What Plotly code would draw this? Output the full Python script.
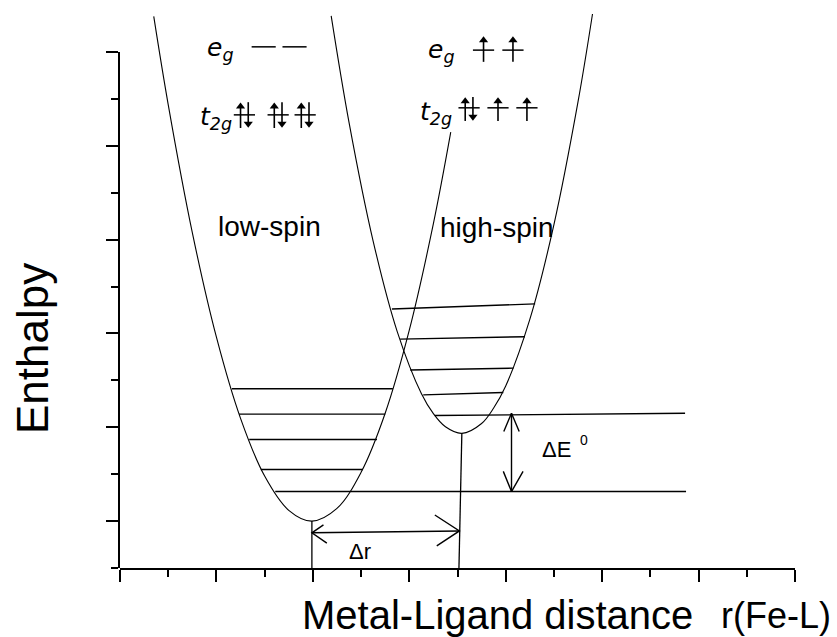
import plotly.graph_objects as go

# ---------------- data (axis units = minor-tick steps) ----------------
# potential-energy curves (sampled points along each curve)
LS_X = [0.70, 1.00, 1.50, 2.00, 2.50, 3.00, 3.50, 3.98, 4.50, 5.00, 5.50, 6.00, 6.50, 6.86]
LS_Y = [11.76, 9.88, 7.15, 4.92, 3.19, 1.96, 1.23, 1.00, 1.27, 2.04, 3.30, 5.07, 7.34, 9.29]
HS_X = [4.38, 4.75, 5.25, 5.75, 6.25, 6.50, 6.75, 7.09, 7.50, 7.75, 8.00, 8.50, 9.00, 9.50, 9.80]
HS_Y = [11.77, 9.50, 6.97, 5.04, 3.72, 3.29, 3.01, 2.87, 3.08, 3.41, 3.88, 5.30, 7.32, 9.94, 11.81]

# vibrational levels
LS_LEVEL_Y = [3.82, 3.28, 2.74, 2.10, 1.63]
LS_LEVEL_X0 = [2.32, 2.47, 2.68, 2.92, 3.22]
LS_LEVEL_X1 = [5.66, 5.50, 5.33, 5.04, 11.74]
HS_LEVEL_Y0 = [5.52, 4.88, 4.22, 3.69, 3.25]
HS_LEVEL_Y1 = [5.63, 4.93, 4.26, 3.74, 3.30]
HS_LEVEL_X0 = [5.64, 5.81, 6.02, 6.29, 6.53]
HS_LEVEL_X1 = [8.61, 8.40, 8.16, 7.95, 11.72]

# minima and drop lines
LS_MIN = (3.98, 1.00)
HS_MIN = (7.09, 2.87)
HS_DROP_X = 7.03

# Delta r arrow (y at left / right end) and Delta E arrow
DR_Y = (0.75, 0.79)
DR_X = (3.98, 7.04)
DE_X = 8.12
DE_Y = (1.63, 3.30)

# electron configurations (0 empty, 1 up, 2 paired)
LS_EG = [0, 0]
LS_T2G = [2, 2, 2]
HS_EG = [1, 1]
HS_T2G = [2, 1, 1]

# text
STATE_LABELS = ["low-spin", "high-spin"]
Y_TITLE = "Enthalpy"
X_TITLE = "Metal-Ligand distance"
X_UNIT = "r(Fe-L)"

# ---------------- figure ----------------
BLACK = "black"
FONT = "Liberation Sans, Arial, sans-serif"
W, H = 837, 637
X0PX, X1PX = 120, 795
YBOT, YTOP = 568, 52
PXY = (YBOT - YTOP) / 11.0

fig = go.Figure()


def seg_trace(xs, ys, width=1.3, color=BLACK):
    return go.Scatter(x=xs, y=ys, mode="lines", line=dict(color=color, width=width),
                      hoverinfo="skip", showlegend=False, xaxis="x", yaxis="y")


# curves
for cx, cy in ((LS_X, LS_Y), (HS_X, HS_Y)):
    fig.add_trace(go.Scatter(x=cx, y=cy, mode="lines",
                             line=dict(color=BLACK, width=1.1, shape="spline", smoothing=1.0),
                             hoverinfo="skip", showlegend=False))

# levels
lx, ly = [], []
for y, a, b in zip(LS_LEVEL_Y, LS_LEVEL_X0, LS_LEVEL_X1):
    lx += [a, b, None]
    ly += [y, y, None]
for y0, y1, a, b in zip(HS_LEVEL_Y0, HS_LEVEL_Y1, HS_LEVEL_X0, HS_LEVEL_X1):
    lx += [a, b, None]
    ly += [y0, y1, None]
fig.add_trace(seg_trace(lx, ly, width=1.4))

# drop lines
fig.add_trace(seg_trace([LS_MIN[0], LS_MIN[0], None, HS_MIN[0], HS_DROP_X],
                        [LS_MIN[1], 0, None, HS_MIN[1], 0], width=1.3))

# Delta r arrow with open heads
ax_, ay_ = [], []
ax_ += [DR_X[0], DR_X[1], None]
ay_ += [DR_Y[0], DR_Y[1], None]
ax_ += [DR_X[0] + 0.31, DR_X[0], DR_X[0] + 0.24, None]
ay_ += [DR_Y[0] - 0.22, DR_Y[0], DR_Y[0] + 0.17, None]
ax_ += [DR_X[1] - 0.51, DR_X[1], DR_X[1] - 0.47, None]
ay_ += [DR_Y[1] + 0.34, DR_Y[1], DR_Y[1] - 0.32, None]
# Delta E arrow
ax_ += [DE_X, DE_X, None]
ay_ += [DE_Y[0], DE_Y[1], None]
ax_ += [DE_X - 0.16, DE_X, DE_X + 0.16, None]
ay_ += [DE_Y[1] - 0.39, DE_Y[1], DE_Y[1] - 0.39, None]
ax_ += [DE_X - 0.17, DE_X, DE_X + 0.24, None]
ay_ += [DE_Y[0] + 0.43, DE_Y[0], DE_Y[0] + 0.43, None]
fig.add_trace(seg_trace(ax_, ay_, width=1.4))

# orbital diagrams: orbital lines, electron shafts and arrow heads (markers)
orb_x, orb_y = [], []
sh_x, sh_y = [], []
hd_x, hd_y, hd_sym = [], [], []
HEAD = 0.09  # head centre inset from tip (axis units)


def electron(x, y_lo, y_hi, up):
    if up:
        sh_x.extend([x, x, None]); sh_y.extend([y_lo, y_hi - HEAD, None])
        hd_x.append(x); hd_y.append(y_hi - HEAD); hd_sym.append("triangle-up")
    else:
        sh_x.extend([x, x, None]); sh_y.extend([y_hi, y_lo + HEAD, None])
        hd_x.append(x); hd_y.append(y_lo + HEAD); hd_sym.append("triangle-down")


def orbitals(cfg, centers, y_line, y_lo, y_hi, half=0.22, off=0.08):
    for occ, c in zip(cfg, centers):
        orb_x.extend([c - half, c + half, None])
        orb_y.extend([y_line, y_line, None])
        if occ == 1:
            electron(c, y_lo, y_hi, True)
        elif occ == 2:
            electron(c - off, y_lo, y_hi, True)
            electron(c + off, y_lo, y_hi, False)


orbitals(LS_EG, [2.98, 3.62], 11.11, 10.85, 11.37, half=0.25)
orbitals(LS_T2G, [2.58, 3.28, 3.84], 9.66, 9.38, 9.93)
orbitals(HS_EG, [7.54, 8.15], 11.04, 10.79, 11.34)
orbitals(HS_T2G, [7.24, 7.84, 8.44], 9.81, 9.53, 10.04)

fig.add_trace(seg_trace(orb_x, orb_y, width=1.5))
fig.add_trace(seg_trace(sh_x, sh_y, width=1.6))
fig.add_trace(go.Scatter(x=hd_x, y=hd_y, mode="markers",
                         marker=dict(symbol=hd_sym, size=8, color=BLACK, line=dict(width=0)),
                         hoverinfo="skip", showlegend=False))

annotations = []
ORB_FONT = dict(family="DejaVu Sans, sans-serif", size=25, color=BLACK)
for txt, x, y in (("<i>e</i><sub><i>g</i></sub>", 2.09, 11.07),
                  ("<i>t</i><sub><i>2g</i></sub>", 1.99, 9.60),
                  ("<i>e</i><sub><i>g</i></sub>", 6.66, 11.02),
                  ("<i>t</i><sub><i>2g</i></sub>", 6.55, 9.69)):
    annotations.append(dict(x=x, y=y, xref="x", yref="y", text=txt, showarrow=False,
                            font=ORB_FONT, xanchor="center", yanchor="middle"))

# state labels
for txt, x, y in ((STATE_LABELS[0], 3.11, 7.27), (STATE_LABELS[1], 7.82, 7.25)):
    annotations.append(dict(x=x, y=y, xref="x", yref="y", text=txt, showarrow=False,
                            font=dict(family=FONT, size=28, color=BLACK), xanchor="center", yanchor="middle"))

annotations.append(dict(x=9.06, y=2.52, xref="x", yref="y", text="\u0394E", showarrow=False,
                        font=dict(family=FONT, size=22, color=BLACK), xanchor="center", yanchor="middle"))
annotations.append(dict(x=9.62, y=2.72, xref="x", yref="y", text="0", showarrow=False,
                        font=dict(family=FONT, size=14, color=BLACK), xanchor="center", yanchor="middle"))
annotations.append(dict(x=4.98, y=0.36, xref="x", yref="y", text="\u0394r", showarrow=False,
                        font=dict(family=FONT, size=22, color=BLACK), xanchor="center", yanchor="middle"))

# axis titles
annotations.append(dict(x=32 / W, y=1 - 349 / H, xref="paper", yref="paper", text=Y_TITLE, showarrow=False,
                        textangle=-90, font=dict(family=FONT, size=44, color=BLACK),
                        xanchor="center", yanchor="middle"))
annotations.append(dict(x=300 / W, y=1 - 615 / H, xref="paper", yref="paper", text=X_TITLE, showarrow=False,
                        font=dict(family=FONT, size=40, color=BLACK), xanchor="left", yanchor="middle"))
annotations.append(dict(x=719 / W, y=1 - 615 / H, xref="paper", yref="paper", text=X_UNIT, showarrow=False,
                        font=dict(family=FONT, size=36, color=BLACK), xanchor="left", yanchor="middle"))

# dummy trace for the visible y axis
fig.add_trace(go.Scatter(x=[None], y=[None], xaxis="x", yaxis="y2", showlegend=False, hoverinfo="skip"))

tick_common = dict(ticks="outside", tickwidth=2, tickcolor=BLACK, showline=True, linewidth=2,
                   linecolor=BLACK, showgrid=False, zeroline=False, showticklabels=False, fixedrange=True)

fig.update_layout(
    width=W, height=H, margin=dict(l=0, r=0, t=0, b=0),
    paper_bgcolor="white", plot_bgcolor="rgba(0,0,0,0)", showlegend=False,
    xaxis=dict(domain=[X0PX / W, X1PX / W], range=[0, 14], tick0=0, dtick=2, ticklen=12, anchor="y",
               minor=dict(dtick=1, ticks="outside", ticklen=7, tickwidth=2, tickcolor=BLACK, showgrid=False),
               **tick_common),
    yaxis=dict(domain=[(H - YBOT) / H, 1], range=[0, YBOT / PXY], visible=False, anchor="x", fixedrange=True),
    yaxis2=dict(domain=[(H - YBOT) / H, (H - YTOP) / H], range=[0, 11], tick0=1, dtick=2, ticklen=12,
                anchor="x",
                minor=dict(dtick=1, tick0=0, ticks="outside", ticklen=7, tickwidth=2, tickcolor=BLACK,
                           showgrid=False),
                **tick_common),
    annotations=annotations,
)

fig.write_html("out.html")
